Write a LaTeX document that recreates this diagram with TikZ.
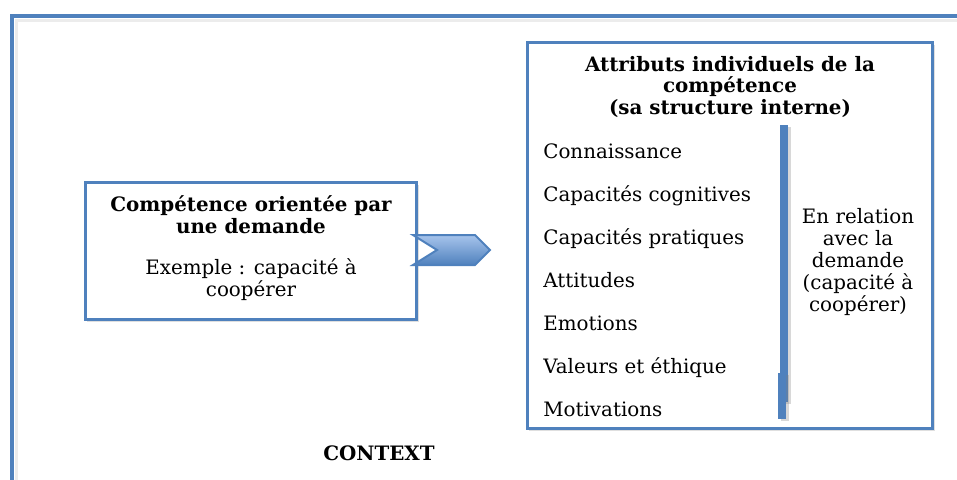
\documentclass[tikz,border=0pt]{standalone}
\usepackage{fontspec}
\setmainfont{DejaVu Serif}
\usetikzlibrary{positioning,shadows}
\definecolor{frameblue}{HTML}{4F81BD}
\definecolor{chevtop}{HTML}{A7C4EC}
\definecolor{chevbot}{HTML}{4F81BD}
\tikzset{%
	box/.style      = {draw=frameblue, line width=0.06cm, fill=white, drop shadow={opacity=0.25, shadow xshift=0.04cm, shadow yshift=-0.05cm}},
	boldtext/.style = {font=\fontsize{11.3}{12.4}\selectfont\bfseries, align=center, inner sep=0pt},
	plaintext/.style= {font=\fontsize{11.3}{12.5}\selectfont, align=center, inner sep=0pt},
	item/.style     = {font=\fontsize{11.3}{12.5}\selectfont, anchor=base west, inner sep=0pt},
	bar/.style      = {fill=frameblue, drop shadow={opacity=0.3, shadow xshift=0.06cm, shadow yshift=-0.03cm}},
	chevron/.style  = {draw=frameblue, line width=0.04cm, top color=chevtop, bottom color=chevbot},
}
\begin{document}
\begin{tikzpicture}[x=0.02cm, y=-0.02cm]
	\useasboundingbox (0,0) rectangle (957,480);
	\clip (0,0) rectangle (957,480);
	% outer frame (context)
	\draw[gray!15, line width=0.06cm] (16.5,490) -- (16.5,20.5) -- (970,20.5);
	\draw[frameblue, line width=0.08cm] (12,490) -- (12,16) -- (970,16);
	\node[boldtext] (context) at (379,453) {CONTEXT};

	% left box
	\node[box, minimum width=6.64cm, minimum height=2.76cm] (demande) at (251,251) {};
	\node[boldtext] (demtitle) at (251,215) {Compétence orientée par\\une demande};
	\node[plaintext] (exemple) at (251,280) {Exemple : capacité à\\coopérer};

	% chevron
	\draw[chevron] (413,235) -- (475,235) -- (490,250) -- (475,265) -- (413,265) -- (437,250) -- cycle;

	% right box
	\node[box, minimum width=8.12cm, minimum height=7.74cm] (attributs) at (730,235.5) {};
	\node[boldtext] (atttitle) at (730,87) {Attributs individuels de la\\compétence\\(sa structure interne)};
	\foreach \name [count=\i from 0] in {Connaissance, Capacités cognitives, Capacités pratiques, Attitudes, Emotions, Valeurs et éthique, Motivations}
		\node[item] (item\i) at (543,158+43*\i) {\name};
	\fill[bar] (780,125) rectangle (788,402);
	\fill[bar] (778,373) rectangle (786,419);
	\node[plaintext] (relation) at (858,262) {En relation\\avec la\\demande\\(capacité à\\coopérer)};
\end{tikzpicture}
\end{document}
